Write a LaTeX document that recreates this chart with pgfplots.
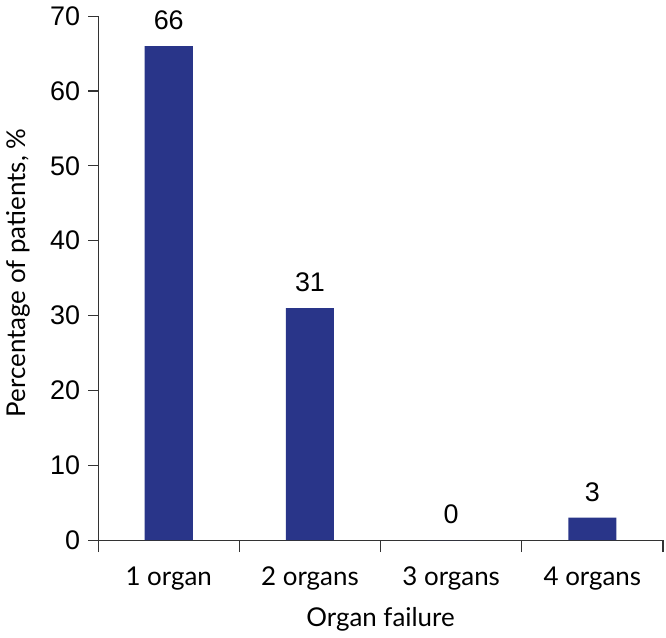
\documentclass[border=0pt]{standalone}
\usepackage{pgfplots}
\pgfplotsset{compat=1.18}
\usetikzlibrary{calc}
\usepackage{fontspec}
\setmainfont{Liberation Sans}
\newfontfamily\labfont{Lato}
\definecolor{barblue}{RGB}{41,53,137}

\begin{document}
\begin{tikzpicture}
\begin{axis}[
    scale only axis,
    width=283.5pt, height=263pt,
    xmin=-0.5, xmax=3.5,
    ymin=0, ymax=70,
    ytick={0,10,...,70},
    xtick={0,1,2,3},
    xticklabels={1 organ, 2 organs, 3 organs, 4 organs},
    minor xtick={-0.5,0.5,1.5,2.5,3.5},
    axis x line*=bottom, axis y line*=left,
    axis line style={-, black!80, line width=0.6pt},
    tick align=outside,
    major tick length=5pt,
    minor tick length=6pt,
    tick style={black!80, line width=0.6pt},
    major x tick style={draw=none},
    yticklabel style={font=\fontsize{13.5}{15}\selectfont, xshift=-0.5pt},
    xticklabel style={font=\labfont\fontsize{13}{15}\selectfont, yshift=-5pt},
    /pgf/number format/assume math mode=true,
    xlabel={Organ failure},
    ylabel={Percentage of patients, \%},
    xlabel style={font=\labfont\fontsize{13}{15}\selectfont, at={(axis description cs:0.5,0)}, anchor=center, yshift=-39.5pt},
    ylabel style={font=\labfont\fontsize{13}{15}\selectfont, at={(axis description cs:-0.141,0.51)}, anchor=center},
    ybar, bar width=0.34,
    nodes near coords,
    every node near coord/.append style={font=\fontsize{13.5}{15}\selectfont, black, yshift=4.5pt},
]
\addplot[fill=barblue, draw=none] coordinates {(0,66) (1,31) (2,0) (3,3)};
\coordinate (bl) at (rel axis cs:0,0);
\coordinate (tr) at (rel axis cs:1,1);
\end{axis}
\path ($(bl)+(-48pt,-47.5pt)$) rectangle ($(tr)+(1.5pt,7pt)$);
\end{tikzpicture}
\end{document}
